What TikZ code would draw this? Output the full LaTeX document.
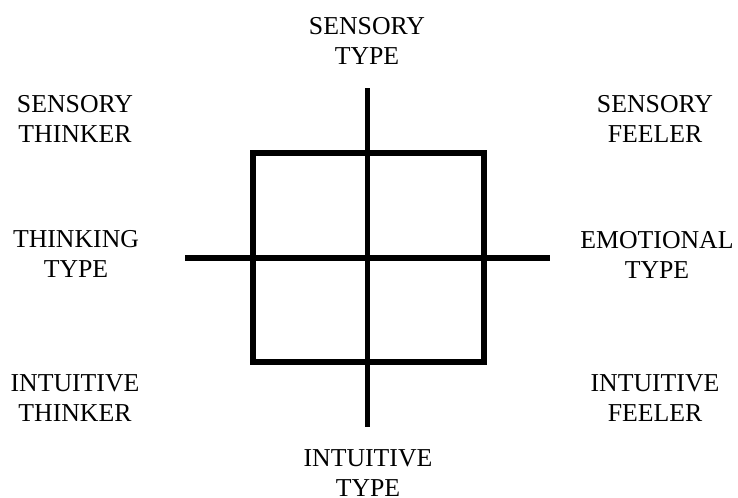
\documentclass[tikz,border=0pt]{standalone}
\usepackage{fontspec}
\setmainfont{Liberation Serif}
\usepackage{tikz}
\usetikzlibrary{positioning}

\begin{document}
\begin{tikzpicture}[x=0.03cm,y=-0.03cm,
  typelbl/.style={align=center,inner sep=0pt,
                  font=\fontsize{22pt}{25.6pt}\selectfont},
  axisline/.style={line width=4.3pt},
]
\useasboundingbox (0,0) rectangle (738,497);
% the four-quadrant square and its two axes
\coordinate (sqtl) at (253,153);
\coordinate (sqbr) at (484,362);
\draw[axisline] (sqtl) rectangle (sqbr);
\coordinate (vtop) at (367.5,88);
\coordinate (vbot) at (367.5,427);
\coordinate (hleft) at (185,258);
\coordinate (hright) at (550,258);
\draw[axisline] (vtop) -- (vbot);
\draw[axisline] (hleft) -- (hright);
% labels round the cross
\node[typelbl] (senstype) at (367,41) {SENSORY\\TYPE};
\node[typelbl] (intutype) at (368,473) {INTUITIVE\\TYPE};
\foreach \nm/\x/\y/\txt in {sensthink/75/119/{SENSORY\\THINKER},
                           thinktype/76/254/{THINKING\\TYPE},
                           intuthink/75/398/{INTUITIVE\\THINKER},
                           sensfeel/655/119/{SENSORY\\FEELER},
                           emotype/657/255/{EMOTIONAL\\TYPE},
                           intufeel/655/398/{INTUITIVE\\FEELER}}
  \node[typelbl] (\nm) at (\x,\y) {\txt};
\end{tikzpicture}
\end{document}
